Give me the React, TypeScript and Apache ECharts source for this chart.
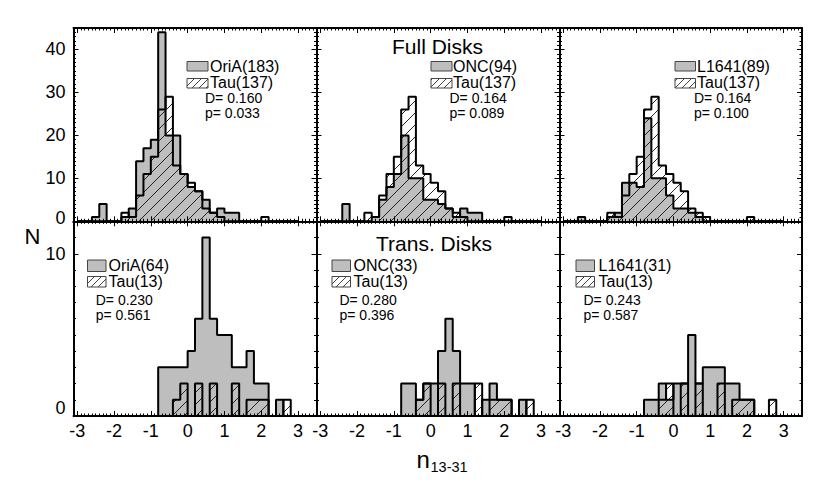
import React, { useEffect, useRef } from "react";
import * as echarts from "echarts";

// ---- data: counts per 0.2-wide bin from -3.0 to +3.0 (30 bins) ----
const BIN_START = -3.0;
const BIN_WIDTH = 0.2;

const tauFull = [0,0,0,0,0,0,2,1,6,11,15,26,29,13,11,9,7,3,2,1,0,0,0,0,0,1,0,0,0,0];
const oriAFull = [0,0,1,4,0,0,1,3,14,17,19,44,20,20,11,8,7,5,2,3,2,2,0,0,0,0,0,0,0,0];
const oncFull = [0,0,0,4,0,0,0,1,5,8,11,20,10,10,5,5,4,3,1,3,2,2,0,0,0,0,0,0,0,0];
const l1641Full = [0,0,1,0,0,0,1,2,9,9,8,24,10,10,6,3,3,2,1,0,0,0,0,0,0,0,0,0,0,0];

const tauTrans = [0,0,0,0,0,0,0,0,0,0,0,0,0,1,2,0,2,0,2,0,0,2,0,1,1,1,0,0,1,0];
const oriATrans = [0,0,0,0,0,0,0,0,0,0,0,3,3,3,3,4,6,11,6,5,5,3,3,4,2,2,0,1,0,0];
const oncTrans = [0,0,0,0,0,0,0,0,0,0,0,2,2,1,2,2,4,6,4,2,2,0,1,2,1,1,0,1,0,0];
const l1641Trans = [0,0,0,0,0,0,0,0,0,0,0,1,1,2,1,2,2,5,2,3,3,3,2,2,1,1,0,0,0,0];

const sampleNames = ["OriA", "ONC", "L1641"];
const fullSizes = [183, 94, 89];
const tauFullSize = 137;
const transSizes = [64, 33, 31];
const tauTransSize = 13;
const fullD = ["0.160", "0.164", "0.164"];
const fullP = ["0.033", "0.089", "0.100"];
const transD = ["0.230", "0.280", "0.243"];
const transP = ["0.561", "0.396", "0.587"];
const rowTitles = ["Full Disks", "Trans. Disks"];
const yMaxRows = [45, 12];
const X_MIN = -3.1;
const X_MAX = 3.5;
const yAxisTitle = "N";
const xAxisTitle = "n";
const xAxisSub = "13-31";

// ---- layout / style ----
const FONT = '"Liberation Sans", Arial, Helvetica, sans-serif';
const GRAY = "#bebebe";
const colLeft = [73.5, 316.5, 559.5];
const colWidth = [243, 243, 242.5];
const rowTop = [28, 221.3];
const rowHeight = [193.3, 194.7];

const legendLayout = [
  { bx: 187, bw: 21, b1y: 61.5, b1h: 9.5, b2y: 78.5, b2h: 9.5, tx: 210, t1: 66, t2: 82.5, sx: 205, s1: 97.5, s2: 113 },
  { bx: 431, bw: 21, b1y: 61.5, b1h: 9.5, b2y: 78.5, b2h: 9.5, tx: 453, t1: 66, t2: 82.5, sx: 449.5, s1: 97.5, s2: 113 },
  { bx: 675, bw: 20.5, b1y: 61.5, b1h: 9.5, b2y: 78.5, b2h: 9.5, tx: 697, t1: 66, t2: 82.5, sx: 694, s1: 97.5, s2: 113 },
  { bx: 87.5, bw: 18.5, b1y: 260, b1h: 11.5, b2y: 276.5, b2h: 10.5, tx: 108.5, t1: 265.5, t2: 281.7, sx: 95.7, s1: 299.5, s2: 315 },
  { bx: 332, bw: 18.5, b1y: 260, b1h: 11.5, b2y: 276.5, b2h: 10.5, tx: 353.5, t1: 265.5, t2: 281.7, sx: 339.5, s1: 299.5, s2: 315 },
  { bx: 576, bw: 18.5, b1y: 260, b1h: 11.5, b2y: 276.5, b2h: 10.5, tx: 598.5, t1: 265.5, t2: 281.7, sx: 583.5, s1: 299.5, s2: 315 },
];
const titlePos = [
  { x: 437.5, y: 46 },
  { x: 434, y: 243.5 },
];

function stepPoints(counts: number[]): [number, number][] {
  const pts: [number, number][] = [];
  const edge = (k: number) => Math.round((BIN_START + BIN_WIDTH * k) * 100) / 100;
  pts.push([edge(0), 0]);
  for (let i = 0; i < counts.length; i++) pts.push([edge(i), counts[i]]);
  pts.push([edge(counts.length), counts[counts.length - 1]]);
  pts.push([edge(counts.length), 0]);
  return pts;
}

function makeHatch(size: number, lw: number) {
  const c = document.createElement("canvas");
  c.width = size;
  c.height = size;
  const ctx = c.getContext("2d")!;
  ctx.strokeStyle = "#111";
  ctx.lineWidth = lw;
  ctx.beginPath();
  ctx.moveTo(-1, size + 1);
  ctx.lineTo(size + 1, -1);
  ctx.moveTo(-2, 2);
  ctx.lineTo(2, -2);
  ctx.moveTo(size - 2, size + 2);
  ctx.lineTo(size + 2, size - 2);
  ctx.stroke();
  return { image: c, repeat: "repeat", imageWidth: size, imageHeight: size } as any;
}

export default function App() {
  const ref = useRef<HTMLDivElement>(null);

  useEffect(() => {
    if (!ref.current) return;
    const chart = echarts.init(ref.current, undefined, { renderer: "svg" });
    const hatch = makeHatch(12, 0.9);
    const hatchLegend = makeHatch(7, 0.8);

    const grids: any[] = [];
    const xAxes: any[] = [];
    const yAxes: any[] = [];
    const series: any[] = [];
    const graphics: any[] = [];

    const intLabel = (v: number) =>
      Math.abs(v - Math.round(v)) < 1e-6 ? String(Math.round(v)) : "";

    for (let row = 0; row < 2; row++) {
      for (let col = 0; col < 3; col++) {
        const g = row * 3 + col;
        const yMax = yMaxRows[row];
        grids.push({
          left: colLeft[col],
          top: rowTop[row],
          width: colWidth[col],
          height: rowHeight[row],
          containLabel: false,
          outerBoundsMode: "none",
        });
        const lineOn = { show: true, onZero: false, lineStyle: { color: "#000", width: 2 } };
        const lineOff = { show: false, onZero: false };
        const baseX = { type: "value", gridIndex: g, min: X_MIN, max: X_MAX, splitLine: { show: false }, z: 10 };
        xAxes.push({
          ...baseX,
          position: "bottom",
          splitNumber: 6,
          axisLine: lineOn,
          axisTick: { show: true, inside: true, length: 5, lineStyle: { color: "#000", width: 1 } },
          axisLabel: {
            show: row === 1,
            formatter: intLabel,
            showMinLabel: false,
            showMaxLabel: false,
            margin: 6,
            fontSize: 18,
            fontFamily: FONT,
            color: "#000",
          },
        });
        xAxes.push({
          ...baseX,
          position: "bottom",
          interval: 0.1,
          axisLine: lineOff,
          axisTick: { show: true, inside: true, length: 2.5, lineStyle: { color: "#000", width: 1 } },
          axisLabel: { show: false },
        });
        xAxes.push({
          ...baseX,
          position: "top",
          splitNumber: 6,
          axisLine: lineOn,
          axisTick: { show: true, inside: true, length: 5, lineStyle: { color: "#000", width: 1 } },
          axisLabel: { show: false },
        });
        xAxes.push({
          ...baseX,
          position: "top",
          interval: 0.1,
          axisLine: lineOff,
          axisTick: { show: true, inside: true, length: 2.5, lineStyle: { color: "#000", width: 1 } },
          axisLabel: { show: false },
        });

        const baseY = { type: "value", gridIndex: g, min: 0, max: yMax, splitLine: { show: false }, z: 10 };
        const zeroPad = row === 0 ? 6 : 16;
        yAxes.push({
          ...baseY,
          position: "left",
          interval: 10,
          axisLine: lineOn,
          axisTick: { show: true, inside: true, length: 5, lineStyle: { color: "#000", width: 1 } },
          axisLabel: {
            show: col === 0,
            formatter: (v: number) => (v === 0 ? "{z|0}" : v % 10 === 0 ? String(v) : ""),
            showMaxLabel: false,
            margin: 8,
            fontSize: 18,
            fontFamily: FONT,
            color: "#000",
            rich: { z: { fontSize: 18, fontFamily: FONT, color: "#000", padding: [0, 0, zeroPad, 0] } },
          },
        });
        yAxes.push({
          ...baseY,
          position: "left",
          interval: 1,
          axisLine: lineOff,
          axisTick: { show: true, inside: true, length: 2.5, lineStyle: { color: "#000", width: 1 } },
          axisLabel: { show: false },
        });
        yAxes.push({
          ...baseY,
          position: "right",
          interval: 10,
          axisLine: lineOn,
          axisTick: { show: true, inside: true, length: 5, lineStyle: { color: "#000", width: 1 } },
          axisLabel: { show: false },
        });
        yAxes.push({
          ...baseY,
          position: "right",
          interval: 1,
          axisLine: lineOff,
          axisTick: { show: true, inside: true, length: 2.5, lineStyle: { color: "#000", width: 1 } },
          axisLabel: { show: false },
        });

        const sampleCounts =
          row === 0
            ? [oriAFull, oncFull, l1641Full][col]
            : [oriATrans, oncTrans, l1641Trans][col];
        const tauCounts = row === 0 ? tauFull : tauTrans;

        series.push({
          type: "line",
          name: sampleNames[col],
          xAxisIndex: 4 * g,
          yAxisIndex: 4 * g,
          data: stepPoints(sampleCounts),
          step: "end",
          symbol: "none",
          showSymbol: false,
          silent: true,
          z: 2,
          lineStyle: { color: "#000", width: 2 },
          areaStyle: { color: GRAY, opacity: 1, origin: "start" },
        });
        series.push({
          type: "line",
          name: "Tau",
          xAxisIndex: 4 * g,
          yAxisIndex: 4 * g,
          data: stepPoints(tauCounts),
          step: "end",
          symbol: "none",
          showSymbol: false,
          silent: true,
          z: 3,
          lineStyle: { color: "#000", width: 2 },
          areaStyle: { color: hatch, opacity: 1, origin: "start" },
        });

        const L = legendLayout[g];
        const n = row === 0 ? fullSizes[col] : transSizes[col];
        const tn = row === 0 ? tauFullSize : tauTransSize;
        const dv = row === 0 ? fullD[col] : transD[col];
        const pv = row === 0 ? fullP[col] : transP[col];
        graphics.push({
          type: "rect",
          shape: { x: L.bx, y: L.b1y, width: L.bw, height: L.b1h },
          style: { fill: GRAY, stroke: "#444", lineWidth: 1 },
          z: 20,
        });
        graphics.push({
          type: "rect",
          shape: { x: L.bx, y: L.b2y, width: L.bw, height: L.b2h },
          style: { fill: hatchLegend, stroke: "#444", lineWidth: 1 },
          z: 20,
        });
        const txt = (x: number, y: number, s: string, size: number) => ({
          type: "text",
          x,
          y,
          z: 20,
          style: { text: s, fontSize: size, fontFamily: FONT, fill: "#000", align: "left", verticalAlign: "middle" },
        });
        graphics.push(txt(L.tx, L.t1, `${sampleNames[col]}(${n})`, 16));
        graphics.push(txt(L.tx, L.t2, `Tau(${tn})`, 16));
        graphics.push(txt(L.sx, L.s1, `D= ${dv}`, 14));
        graphics.push(txt(L.sx, L.s2, `p= ${pv}`, 14));
      }
    }

    rowTitles.forEach((t, i) => {
      graphics.push({
        type: "text",
        x: titlePos[i].x,
        y: titlePos[i].y,
        z: 20,
        style: { text: t, fontSize: 21, fontFamily: FONT, fill: "#000", align: "center", verticalAlign: "middle" },
      });
    });
    graphics.push({
      type: "text",
      x: 32.5,
      y: 236.5,
      z: 20,
      style: { text: yAxisTitle, fontSize: 22, fontFamily: FONT, fill: "#000", align: "center", verticalAlign: "middle" },
    });
    graphics.push({
      type: "text",
      x: 416.5,
      y: 459.5,
      z: 20,
      style: { text: xAxisTitle, fontSize: 24, fontFamily: FONT, fill: "#000", align: "left", verticalAlign: "middle" },
    });
    graphics.push({
      type: "text",
      x: 430.5,
      y: 466.5,
      z: 20,
      style: { text: xAxisSub, fontSize: 14.5, fontFamily: FONT, fill: "#000", align: "left", verticalAlign: "middle" },
    });

    chart.setOption({
      animation: false,
      backgroundColor: "#fff",
      grid: grids,
      xAxis: xAxes,
      yAxis: yAxes,
      series,
      graphic: { elements: graphics },
    });
    return () => chart.dispose();
  }, []);

  return (
    <div
      ref={ref}
      style={{ position: "absolute", left: 0, top: 0, width: 830, height: 489, background: "#fff" }}
    />
  );
}
